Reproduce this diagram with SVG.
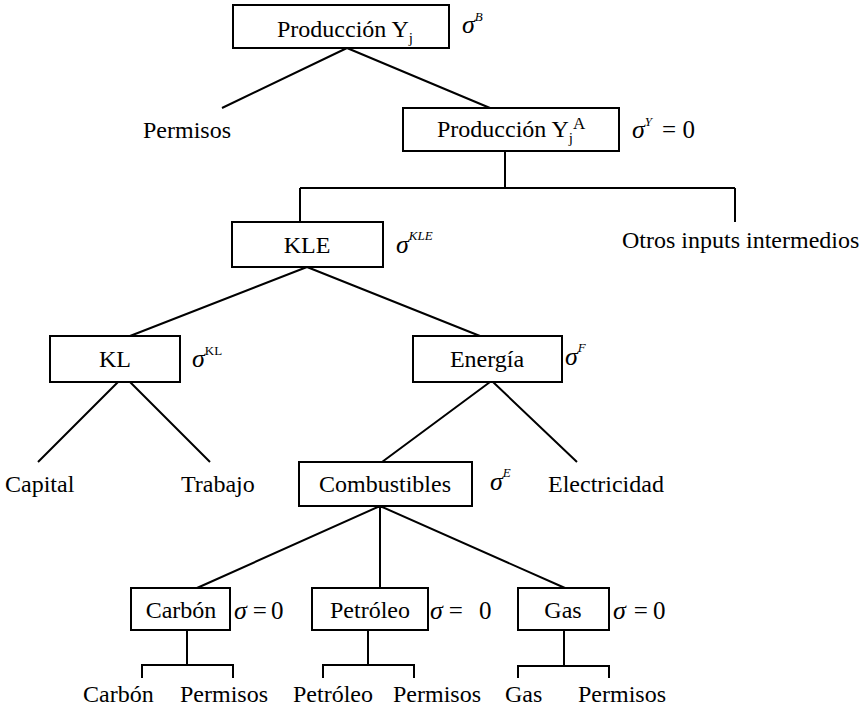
<svg xmlns="http://www.w3.org/2000/svg" width="863" height="715" viewBox="0 0 863 715">
<style>
.box{fill:#fff;stroke:#000;stroke-width:2}
.ln{fill:none;stroke:#000;stroke-width:2}
text{font-family:'Liberation Serif','Times New Roman',serif;fill:#000}
.t{font-size:24px}
.c{text-anchor:middle}
.s{font-size:26px;font-style:italic}
.sup{font-size:13px;font-style:italic}
.up{font-size:13px;font-style:normal}
.sub{font-size:15px}
.eq{font-size:25px;font-style:normal}
</style>
<rect width="863" height="715" fill="#fff"/>
<g id="connectors">
<path class="ln" d="M347,48 L222,108 M347,48 L490,108"/>
<path class="ln" d="M505,151 V188 M300,188 H735 M300,188 V222 M735,188 V222"/>
<path class="ln" d="M307,267 L130,336 M307,267 L480,336"/>
<path class="ln" d="M118,382 L38,462 M130,382 L210,462"/>
<path class="ln" d="M490,382 L382,462 M493,382 L577,462"/>
<path class="ln" d="M380,506 L197,588 M380,506 V588 M380,506 L565,588"/>
<path class="ln" d="M187,630 V665 M142,678 V665 H233 V678"/>
<path class="ln" d="M368,630 V665 M323,678 V665 H414 V678"/>
<path class="ln" d="M564,630 V666 M518,678 V666 H609 V678"/>
</g>
<g id="n-produccion">
<rect class="box" x="233" y="5" width="216" height="43"/>
<text class="t" x="277" y="37">Producción Y<tspan class="sub" dy="6">j</tspan></text>
<text class="s" x="462" y="33">σ<tspan class="sup" dy="-12">B</tspan></text>
</g>
<g id="n-permisos-top"><text class="t" x="143" y="138">Permisos</text></g>
<g id="n-produccionA">
<rect class="box" x="403" y="108" width="216" height="43"/>
<text class="t" x="437" y="137">Producción Y<tspan class="sub" dy="6">j</tspan><tspan font-size="17" dy="-14">A</tspan></text>
<text class="s" x="632" y="138">σ<tspan class="sup" dy="-12">Y</tspan><tspan class="eq" dy="12" dx="10">= 0</tspan></text>
</g>
<g id="n-kle">
<rect class="box" x="232" y="222" width="151" height="45"/>
<text class="t c" x="307" y="253">KLE</text>
<text class="s" x="396" y="253">σ<tspan class="sup" dy="-13">KLE</tspan></text>
</g>
<g id="n-otros"><text class="t" x="622" y="248">Otros inputs intermedios</text></g>
<g id="n-kl">
<rect class="box" x="50" y="336" width="130" height="46"/>
<text class="t c" x="115" y="367">KL</text>
<text class="s" x="192" y="367">σ<tspan class="up" dy="-12">KL</tspan></text>
</g>
<g id="n-energia">
<rect class="box" x="413" y="336" width="149" height="46"/>
<text class="t c" x="487" y="367">Energía</text>
<text class="s" x="565" y="365">σ<tspan class="sup" dy="-13">F</tspan></text>
</g>
<g id="n-capital"><text class="t" x="5" y="492">Capital</text></g>
<g id="n-trabajo"><text class="t" x="181" y="492">Trabajo</text></g>
<g id="n-combustibles">
<rect class="box" x="299" y="462" width="173" height="44"/>
<text class="t c" x="385" y="492">Combustibles</text>
<text class="s" x="490" y="490">σ<tspan class="sup" dy="-13">E</tspan></text>
</g>
<g id="n-electricidad"><text class="t" x="548" y="492">Electricidad</text></g>
<g id="n-carbon">
<rect class="box" x="131" y="588" width="99" height="42"/>
<text class="t c" x="181" y="618">Carbón</text>
<text class="s" x="234" y="619">σ<tspan class="eq" dx="6">=</tspan><tspan class="eq" dx="4">0</tspan></text>
</g>
<g id="n-petroleo">
<rect class="box" x="312" y="588" width="116" height="42"/>
<text class="t c" x="370" y="618">Petróleo</text>
<text class="s" x="430" y="619">σ<tspan class="eq" dx="6">=</tspan><tspan class="eq" dx="16">0</tspan></text>
</g>
<g id="n-gas">
<rect class="box" x="518" y="588" width="91" height="42"/>
<text class="t c" x="563" y="618">Gas</text>
<text class="s" x="613" y="619">σ<tspan class="eq" dx="8">=</tspan><tspan class="eq" dx="5">0</tspan></text>
</g>
<g id="n-leaves">
<text class="t" x="83" y="702">Carbón</text>
<text class="t" x="180" y="702">Permisos</text>
<text class="t" x="293" y="702">Petróleo</text>
<text class="t" x="393" y="702">Permisos</text>
<text class="t" x="505" y="702">Gas</text>
<text class="t" x="578" y="702">Permisos</text>
</g>
</svg>
